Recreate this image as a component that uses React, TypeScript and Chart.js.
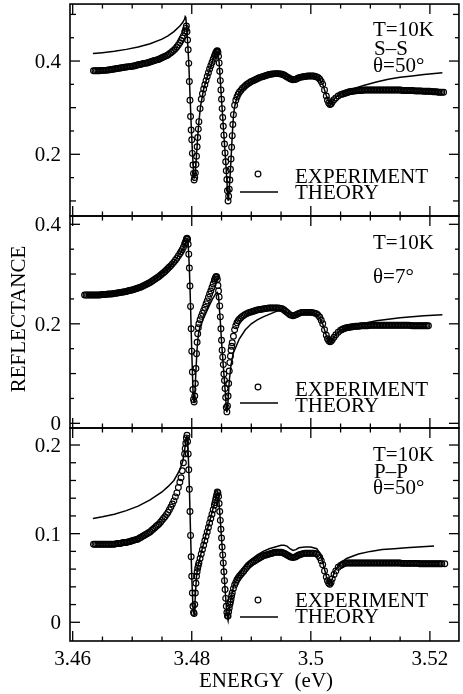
import React, { useEffect, useRef } from "react";
import { Chart, registerables } from "chart.js";

Chart.register(...registerables);

type Pt = [number, number];

// ---------- axis data ----------
const ENERGY_MIN = 3.45955;
const ENERGY_MAX = 3.52488;
const ENERGY_MAJOR = [3.46, 3.48, 3.5, 3.52];
const ENERGY_LABELS = ["3.46", "3.48", "3.5", "3.52"];
const ENERGY_MINOR = [3.465, 3.47, 3.475, 3.485, 3.49, 3.495, 3.505, 3.51, 3.515];

const SS_RANGE: [number, number] = [0.0677, 0.5222];
const SS_MAJOR = [0.2, 0.4];
const SS_LABELS = ["0.2", "0.4"];
const SS_MID = [0.1, 0.3, 0.5];
const SS_MINOR = [0.15, 0.25, 0.35, 0.45];

const N7_RANGE: [number, number] = [-0.0094, 0.4167];
const N7_MAJOR = [0, 0.2, 0.4];
const N7_LABELS = ["0", "0.2", "0.4"];
const N7_MID = [0.1, 0.3];
const N7_MINOR = [0.05, 0.15, 0.25, 0.35];

const PP_RANGE: [number, number] = [-0.0211, 0.2192];
const PP_MAJOR = [0, 0.1, 0.2];
const PP_LABELS = ["0", "0.1", "0.2"];
const PP_MID = [0.02, 0.04, 0.06, 0.08, 0.12, 0.14, 0.16, 0.18];
const PP_MINOR: number[] = [];

// ---------- series data: [energy (eV), reflectance] ----------
const EXP_SS: Pt[] = [
  [3.4635,0.379],[3.46375,0.379],[3.464,0.379],[3.46425,0.379],[3.4645,0.379],[3.46475,0.3795],[3.465,0.38],[3.46525,0.38],[3.4655,0.38],[3.46575,0.3805],
  [3.466,0.381],[3.46625,0.3815],[3.4665,0.382],[3.46675,0.3825],[3.467,0.383],[3.46725,0.3835],[3.4675,0.384],[3.46775,0.3845],[3.468,0.385],[3.46825,0.3855],
  [3.4685,0.386],[3.46875,0.3865],[3.469,0.387],[3.46925,0.3875],[3.4695,0.388],[3.46975,0.3885],[3.47,0.389],[3.47025,0.3895],[3.4705,0.39],[3.47075,0.391],
  [3.471,0.392],[3.47125,0.3925],[3.4715,0.393],[3.47175,0.394],[3.472,0.395],[3.47225,0.3955],[3.4725,0.396],[3.47275,0.397],[3.473,0.398],[3.47325,0.399],
  [3.4735,0.4],[3.47375,0.401],[3.474,0.402],[3.47425,0.403],[3.4745,0.404],[3.47475,0.4055],[3.475,0.407],[3.47525,0.4085],[3.4755,0.41],[3.47575,0.4115],
  [3.476,0.413],[3.47625,0.4155],[3.4765,0.418],[3.47675,0.4205],[3.477,0.423],[3.47725,0.4265],[3.4775,0.43],[3.47775,0.4345],[3.478,0.439],[3.4782,0.444],
  [3.4784,0.449],[3.4786,0.454],[3.4788,0.461],[3.4789,0.465],[3.479,0.47],[3.4791,0.475],[3.4792,0.463],[3.4793,0.445],[3.4794,0.424],[3.4795,0.395],
  [3.4796,0.356],[3.4797,0.316],[3.4798,0.281],[3.4799,0.252],[3.48,0.231],[3.4801,0.202],[3.4802,0.177],[3.4803,0.159],[3.4804,0.145],[3.4805,0.15],
  [3.4806,0.16],[3.4807,0.178],[3.4808,0.196],[3.4809,0.216],[3.481,0.236],[3.4811,0.254],[3.4812,0.27],[3.4814,0.298],[3.4816,0.318],[3.4818,0.33],
  [3.482,0.34],[3.4822,0.349],[3.4824,0.358],[3.4826,0.367],[3.4828,0.375],[3.483,0.383],[3.4832,0.39],[3.4834,0.397],[3.4836,0.404],[3.4838,0.41],
  [3.4839,0.413],[3.484,0.416],[3.4841,0.419],[3.4842,0.421],[3.4843,0.422],[3.4844,0.419],[3.4845,0.41],[3.4846,0.396],[3.4847,0.378],[3.4848,0.358],
  [3.4849,0.338],[3.485,0.318],[3.4851,0.298],[3.4852,0.279],[3.4853,0.26],[3.4854,0.241],[3.4855,0.222],[3.4856,0.203],[3.4857,0.184],[3.4858,0.165],
  [3.4859,0.146],[3.486,0.122],[3.4861,0.1],[3.4862,0.11],[3.4863,0.125],[3.4864,0.145],[3.4865,0.168],[3.4866,0.19],[3.4867,0.215],[3.4868,0.24],
  [3.4869,0.264],[3.487,0.285],[3.4872,0.305],[3.4874,0.316],[3.4876,0.323],[3.4878,0.329],[3.488,0.333],[3.48825,0.337],[3.4885,0.341],[3.48875,0.344],
  [3.489,0.347],[3.48925,0.3495],[3.4895,0.352],[3.48975,0.354],[3.49,0.356],[3.49025,0.3575],[3.4905,0.359],[3.49075,0.3605],[3.491,0.362],[3.49125,0.3635],
  [3.4915,0.365],[3.49175,0.366],[3.492,0.367],[3.49225,0.368],[3.4925,0.369],[3.49275,0.37],[3.493,0.371],[3.49325,0.3715],[3.4935,0.372],[3.49375,0.3725],
  [3.494,0.373],[3.49425,0.373],[3.4945,0.373],[3.49475,0.3725],[3.495,0.372],[3.49525,0.371],[3.4955,0.37],[3.49575,0.368],[3.496,0.366],[3.49625,0.364],
  [3.4965,0.362],[3.49675,0.361],[3.497,0.36],[3.49725,0.3605],[3.4975,0.361],[3.49775,0.3625],[3.498,0.364],[3.49825,0.365],[3.4985,0.366],[3.49875,0.3665],
  [3.499,0.367],[3.49925,0.3675],[3.4995,0.368],[3.49975,0.368],[3.5,0.368],[3.50025,0.368],[3.5005,0.368],[3.50075,0.367],[3.501,0.366],[3.50125,0.364],
  [3.5015,0.361],[3.50175,0.356],[3.502,0.35],[3.5023,0.338],[3.5026,0.325],[3.5028,0.316],[3.503,0.31],[3.5032,0.307],[3.5034,0.308],[3.5036,0.312],
  [3.5039,0.317],[3.5042,0.321],[3.5046,0.325],[3.505,0.328],[3.50525,0.329],[3.5055,0.33],[3.50575,0.331],[3.506,0.332],[3.50625,0.333],[3.5065,0.334],
  [3.50675,0.3345],[3.507,0.335],[3.50725,0.3355],[3.5075,0.336],[3.50775,0.3365],[3.508,0.337],[3.50825,0.337],[3.5085,0.337],[3.50875,0.3375],[3.509,0.338],
  [3.50925,0.338],[3.5095,0.338],[3.50975,0.338],[3.51,0.338],[3.51025,0.338],[3.5105,0.338],[3.51075,0.338],[3.511,0.338],[3.51125,0.338],[3.5115,0.338],
  [3.51175,0.338],[3.512,0.338],[3.51225,0.338],[3.5125,0.338],[3.51275,0.338],[3.513,0.338],[3.51325,0.338],[3.5135,0.338],[3.51375,0.338],[3.514,0.338],
  [3.51425,0.338],[3.5145,0.338],[3.51475,0.338],[3.515,0.338],[3.51525,0.3375],[3.5155,0.337],[3.51575,0.337],[3.516,0.337],[3.51625,0.337],[3.5165,0.337],
  [3.51675,0.337],[3.517,0.337],[3.51725,0.3365],[3.5175,0.336],[3.51775,0.336],[3.518,0.336],[3.51825,0.336],[3.5185,0.336],[3.51875,0.3355],[3.519,0.335],
  [3.51925,0.335],[3.5195,0.335],[3.51975,0.335],[3.52,0.335],[3.52025,0.3345],[3.5205,0.334],[3.52075,0.334],[3.521,0.334],[3.52125,0.3335],[3.5215,0.333],
  [3.52175,0.333],[3.522,0.333],[3.5223,0.333],
];

const THEORY_SS: Pt[] = [
  [3.4634,0.416],[3.465,0.418],[3.467,0.421],[3.469,0.425],[3.471,0.43],[3.473,0.437],[3.475,0.447],[3.476,0.454],[3.477,0.463],[3.478,0.475],
  [3.4785,0.483],[3.4788,0.49],[3.4789,0.495],[3.479,0.493],[3.4791,0.478],[3.4792,0.462],[3.4793,0.443],[3.4795,0.395],[3.4797,0.33],[3.4799,0.265],
  [3.4801,0.207],[3.4803,0.163],[3.4804,0.15],[3.4805,0.15],[3.4806,0.16],[3.4808,0.198],[3.481,0.238],[3.4812,0.27],[3.4815,0.305],[3.482,0.34],
  [3.483,0.383],[3.4838,0.41],[3.4842,0.42],[3.4844,0.418],[3.4846,0.397],[3.4848,0.358],[3.485,0.318],[3.4852,0.279],[3.4854,0.241],[3.4856,0.203],
  [3.4858,0.165],[3.486,0.122],[3.4861,0.102],[3.4862,0.11],[3.4864,0.145],[3.4866,0.19],[3.4868,0.24],[3.487,0.282],[3.4872,0.302],[3.4875,0.318],
  [3.488,0.332],[3.489,0.346],[3.49,0.356],[3.492,0.367],[3.494,0.373],[3.495,0.372],[3.496,0.366],[3.497,0.36],[3.498,0.364],[3.4995,0.368],
  [3.501,0.366],[3.5015,0.361],[3.502,0.35],[3.5026,0.326],[3.5032,0.308],[3.5036,0.313],[3.5042,0.322],[3.505,0.33],[3.506,0.336],[3.507,0.34],
  [3.509,0.348],[3.511,0.355],[3.513,0.361],[3.515,0.365],[3.517,0.368],[3.519,0.371],[3.5221,0.375],
];

const EXP_7: Pt[] = [
  [3.462,0.258],[3.46225,0.258],[3.4625,0.258],[3.46275,0.258],[3.463,0.258],[3.46325,0.258],[3.4635,0.258],[3.46375,0.258],[3.464,0.258],[3.46425,0.258],
  [3.4645,0.258],[3.46475,0.2585],[3.465,0.259],[3.46525,0.259],[3.4655,0.259],[3.46575,0.2595],[3.466,0.26],[3.46625,0.26],[3.4665,0.26],[3.46675,0.2605],
  [3.467,0.261],[3.46725,0.2615],[3.4675,0.262],[3.46775,0.2625],[3.468,0.263],[3.46825,0.2635],[3.4685,0.264],[3.46875,0.2645],[3.469,0.265],[3.46925,0.266],
  [3.4695,0.267],[3.46975,0.2675],[3.47,0.268],[3.47025,0.269],[3.4705,0.27],[3.47075,0.271],[3.471,0.272],[3.47125,0.273],[3.4715,0.274],[3.47175,0.2755],
  [3.472,0.277],[3.47225,0.2785],[3.4725,0.28],[3.47275,0.2815],[3.473,0.283],[3.47325,0.285],[3.4735,0.287],[3.47375,0.289],[3.474,0.291],[3.47425,0.293],
  [3.4745,0.295],[3.47475,0.2975],[3.475,0.3],[3.47525,0.3025],[3.4755,0.305],[3.47575,0.308],[3.476,0.311],[3.47625,0.314],[3.4765,0.317],[3.47675,0.3205],
  [3.477,0.324],[3.47725,0.328],[3.4775,0.332],[3.47775,0.3365],[3.478,0.341],[3.4782,0.345],[3.4784,0.349],[3.4786,0.354],[3.4788,0.36],[3.4789,0.363],
  [3.479,0.366],[3.4791,0.37],[3.4792,0.372],[3.4793,0.37],[3.4794,0.36],[3.4795,0.34],[3.4796,0.312],[3.4797,0.276],[3.4798,0.235],[3.4799,0.19],
  [3.48,0.145],[3.4801,0.103],[3.4802,0.068],[3.4803,0.048],[3.4804,0.043],[3.4805,0.055],[3.4806,0.08],[3.4807,0.11],[3.4808,0.14],[3.4809,0.163],
  [3.481,0.18],[3.4811,0.192],[3.4812,0.2],[3.4814,0.208],[3.4816,0.215],[3.4818,0.221],[3.482,0.227],[3.4822,0.233],[3.4824,0.24],[3.4826,0.246],
  [3.4828,0.253],[3.483,0.26],[3.4832,0.266],[3.4834,0.273],[3.4836,0.28],[3.4838,0.287],[3.4839,0.29],[3.484,0.293],[3.4841,0.295],[3.4842,0.294],
  [3.4843,0.289],[3.4844,0.277],[3.4845,0.266],[3.4846,0.254],[3.4847,0.236],[3.4848,0.214],[3.4849,0.19],[3.485,0.167],[3.4851,0.147],[3.4852,0.133],
  [3.4853,0.118],[3.4854,0.099],[3.4855,0.086],[3.4856,0.07],[3.4857,0.052],[3.4858,0.032],[3.4859,0.023],[3.486,0.035],[3.4861,0.055],[3.4862,0.08],
  [3.4863,0.105],[3.4864,0.122],[3.4865,0.135],[3.4866,0.147],[3.4867,0.155],[3.4868,0.162],[3.487,0.175],[3.4872,0.188],[3.4874,0.196],[3.4876,0.202],
  [3.4878,0.206],[3.488,0.209],[3.48825,0.212],[3.4885,0.215],[3.48875,0.217],[3.489,0.219],[3.48925,0.2205],[3.4895,0.222],[3.48975,0.223],[3.49,0.224],
  [3.49025,0.225],[3.4905,0.226],[3.49075,0.227],[3.491,0.228],[3.49125,0.2285],[3.4915,0.229],[3.49175,0.2295],[3.492,0.23],[3.49225,0.2305],[3.4925,0.231],
  [3.49275,0.2315],[3.493,0.232],[3.49325,0.232],[3.4935,0.232],[3.49375,0.232],[3.494,0.232],[3.49425,0.232],[3.4945,0.232],[3.49475,0.2315],[3.495,0.231],
  [3.49525,0.23],[3.4955,0.228],[3.49575,0.2255],[3.496,0.223],[3.49625,0.2205],[3.4965,0.218],[3.49675,0.217],[3.497,0.216],[3.49725,0.217],[3.4975,0.218],
  [3.49775,0.2195],[3.498,0.221],[3.49825,0.222],[3.4985,0.223],[3.49875,0.223],[3.499,0.223],[3.49925,0.223],[3.4995,0.223],[3.49975,0.223],[3.5,0.223],
  [3.50025,0.2225],[3.5005,0.222],[3.50075,0.221],[3.501,0.22],[3.50125,0.217],[3.5015,0.213],[3.50175,0.207],[3.502,0.2],[3.5023,0.188],[3.5026,0.177],
  [3.5028,0.17],[3.503,0.166],[3.5032,0.164],[3.5034,0.165],[3.5036,0.168],[3.5039,0.173],[3.5042,0.178],[3.5046,0.183],[3.505,0.187],[3.50525,0.1885],
  [3.5055,0.19],[3.50575,0.191],[3.506,0.192],[3.50625,0.1925],[3.5065,0.193],[3.50675,0.1935],[3.507,0.194],[3.50725,0.1945],[3.5075,0.195],[3.50775,0.195],
  [3.508,0.195],[3.50825,0.1955],[3.5085,0.196],[3.50875,0.196],[3.509,0.196],[3.50925,0.196],[3.5095,0.196],[3.50975,0.1965],[3.51,0.197],[3.51025,0.197],
  [3.5105,0.197],[3.51075,0.197],[3.511,0.197],[3.51125,0.197],[3.5115,0.197],[3.51175,0.197],[3.512,0.197],[3.51225,0.197],[3.5125,0.197],[3.51275,0.197],
  [3.513,0.197],[3.51325,0.197],[3.5135,0.197],[3.51375,0.197],[3.514,0.197],[3.51425,0.197],[3.5145,0.197],[3.51475,0.197],[3.515,0.197],[3.51525,0.197],
  [3.5155,0.197],[3.51575,0.197],[3.516,0.197],[3.51625,0.197],[3.5165,0.197],[3.51675,0.1965],[3.517,0.196],[3.51725,0.196],[3.5175,0.196],[3.51775,0.196],
  [3.518,0.196],[3.51825,0.196],[3.5185,0.196],[3.51875,0.196],[3.519,0.196],[3.51925,0.196],[3.5195,0.196],[3.51975,0.196],
];

const THEORY_7: Pt[] = [
  [3.4622,0.258],[3.465,0.259],[3.468,0.263],[3.47,0.268],[3.472,0.277],[3.474,0.291],[3.476,0.311],[3.477,0.324],[3.478,0.341],[3.4785,0.35],
  [3.4789,0.362],[3.4792,0.37],[3.4794,0.36],[3.4796,0.312],[3.4798,0.235],[3.48,0.145],[3.4802,0.068],[3.4803,0.048],[3.4804,0.042],[3.4805,0.052],
  [3.4807,0.105],[3.4809,0.15],[3.4811,0.178],[3.4813,0.19],[3.4816,0.2],[3.482,0.212],[3.483,0.238],[3.4835,0.25],[3.484,0.26],[3.4843,0.263],
  [3.4845,0.255],[3.4848,0.205],[3.485,0.165],[3.4853,0.115],[3.4856,0.068],[3.4858,0.032],[3.4859,0.022],[3.4861,0.045],[3.4863,0.085],[3.4866,0.118],
  [3.487,0.142],[3.488,0.17],[3.489,0.188],[3.49,0.2],[3.491,0.208],[3.492,0.214],[3.493,0.219],[3.494,0.224],[3.495,0.228],[3.4955,0.227],
  [3.496,0.222],[3.497,0.216],[3.498,0.219],[3.499,0.222],[3.5,0.222],[3.501,0.219],[3.5015,0.212],[3.502,0.199],[3.5026,0.177],[3.5032,0.163],
  [3.5038,0.172],[3.5045,0.182],[3.505,0.187],[3.507,0.195],[3.509,0.201],[3.511,0.206],[3.513,0.209],[3.515,0.212],[3.517,0.214],[3.519,0.216],
  [3.5221,0.218],
];

const EXP_PP: Pt[] = [
  [3.4635,0.088],[3.46375,0.088],[3.464,0.088],[3.46425,0.088],[3.4645,0.088],[3.46475,0.088],[3.465,0.088],[3.46525,0.088],[3.4655,0.088],[3.46575,0.088],
  [3.466,0.088],[3.46625,0.088],[3.4665,0.088],[3.46675,0.088],[3.467,0.088],[3.46725,0.0885],[3.4675,0.089],[3.46775,0.089],[3.468,0.089],[3.46825,0.0895],
  [3.4685,0.09],[3.46875,0.09],[3.469,0.09],[3.46925,0.0905],[3.4695,0.091],[3.46975,0.0915],[3.47,0.092],[3.47025,0.0925],[3.4705,0.093],[3.47075,0.0935],
  [3.471,0.094],[3.47125,0.095],[3.4715,0.096],[3.47175,0.097],[3.472,0.098],[3.47225,0.099],[3.4725,0.1],[3.47275,0.101],[3.473,0.102],[3.47325,0.1035],
  [3.4735,0.105],[3.47375,0.1065],[3.474,0.108],[3.47425,0.1095],[3.4745,0.111],[3.47475,0.113],[3.475,0.115],[3.47525,0.117],[3.4755,0.119],[3.47575,0.1215],
  [3.476,0.124],[3.47625,0.127],[3.4765,0.13],[3.47675,0.1335],[3.477,0.137],[3.47725,0.1415],[3.4775,0.146],[3.47775,0.152],[3.478,0.158],[3.4782,0.163],
  [3.4784,0.171],[3.4786,0.18],[3.4788,0.19],[3.4789,0.196],[3.479,0.202],[3.4791,0.208],[3.4792,0.211],[3.4793,0.204],[3.4794,0.19],[3.4795,0.172],
  [3.4796,0.15],[3.4797,0.125],[3.4798,0.098],[3.4799,0.074],[3.48,0.052],[3.4801,0.033],[3.4802,0.018],[3.4803,0.011],[3.4804,0.01],[3.4805,0.02],
  [3.4806,0.033],[3.4807,0.044],[3.4808,0.052],[3.4809,0.057],[3.481,0.061],[3.4811,0.064],[3.4812,0.067],[3.4814,0.072],[3.4816,0.077],[3.4818,0.082],
  [3.482,0.087],[3.4822,0.092],[3.4824,0.097],[3.4826,0.102],[3.4828,0.107],[3.483,0.112],[3.4832,0.117],[3.4834,0.122],[3.4836,0.127],[3.4838,0.132],
  [3.4839,0.135],[3.484,0.138],[3.4841,0.141],[3.4842,0.144],[3.4843,0.147],[3.4844,0.146],[3.4845,0.142],[3.4846,0.134],[3.4847,0.125],[3.4848,0.115],
  [3.4849,0.105],[3.485,0.095],[3.4851,0.085],[3.4852,0.076],[3.4853,0.067],[3.4854,0.057],[3.4855,0.047],[3.4856,0.037],[3.4857,0.027],[3.4858,0.018],
  [3.4859,0.011],[3.486,0.007],[3.4861,0.007],[3.4862,0.012],[3.4863,0.016],[3.4864,0.02],[3.4865,0.023],[3.4866,0.026],[3.4867,0.03],[3.4868,0.033],
  [3.487,0.038],[3.4872,0.042],[3.4874,0.045],[3.4876,0.048],[3.4878,0.05],[3.488,0.052],[3.48825,0.054],[3.4885,0.056],[3.48875,0.058],[3.489,0.06],
  [3.48925,0.062],[3.4895,0.064],[3.48975,0.0655],[3.49,0.067],[3.49025,0.068],[3.4905,0.069],[3.49075,0.07],[3.491,0.071],[3.49125,0.072],[3.4915,0.073],
  [3.49175,0.074],[3.492,0.075],[3.49225,0.0755],[3.4925,0.076],[3.49275,0.0765],[3.493,0.077],[3.49325,0.0775],[3.4935,0.078],[3.49375,0.0785],[3.494,0.079],
  [3.49425,0.079],[3.4945,0.079],[3.49475,0.079],[3.495,0.079],[3.49525,0.0785],[3.4955,0.078],[3.49575,0.077],[3.496,0.076],[3.49625,0.075],[3.4965,0.074],
  [3.49675,0.0735],[3.497,0.073],[3.49725,0.0735],[3.4975,0.074],[3.49775,0.075],[3.498,0.076],[3.49825,0.0765],[3.4985,0.077],[3.49875,0.0775],[3.499,0.078],
  [3.49925,0.078],[3.4995,0.078],[3.49975,0.078],[3.5,0.078],[3.50025,0.078],[3.5005,0.078],[3.50075,0.0775],[3.501,0.077],[3.50125,0.0755],[3.5015,0.073],
  [3.50175,0.0695],[3.502,0.065],[3.5023,0.058],[3.5026,0.051],[3.5028,0.047],[3.503,0.044],[3.5032,0.043],[3.5034,0.045],[3.5036,0.049],[3.5039,0.054],
  [3.5042,0.058],[3.5046,0.062],[3.505,0.064],[3.50525,0.065],[3.5055,0.066],[3.50575,0.0665],[3.506,0.067],[3.50625,0.067],[3.5065,0.067],[3.50675,0.067],
  [3.507,0.067],[3.50725,0.067],[3.5075,0.067],[3.50775,0.067],[3.508,0.067],[3.50825,0.067],[3.5085,0.067],[3.50875,0.067],[3.509,0.067],[3.50925,0.067],
  [3.5095,0.067],[3.50975,0.067],[3.51,0.067],[3.51025,0.067],[3.5105,0.067],[3.51075,0.067],[3.511,0.067],[3.51125,0.067],[3.5115,0.067],[3.51175,0.067],
  [3.512,0.067],[3.51225,0.067],[3.5125,0.067],[3.51275,0.067],[3.513,0.067],[3.51325,0.067],[3.5135,0.067],[3.51375,0.067],[3.514,0.067],[3.51425,0.067],
  [3.5145,0.067],[3.51475,0.067],[3.515,0.067],[3.51525,0.0665],[3.5155,0.0665],[3.51575,0.0665],[3.516,0.0665],[3.51625,0.0665],[3.5165,0.0665],[3.51675,0.0665],
  [3.517,0.0665],[3.51725,0.0665],[3.5175,0.0665],[3.51775,0.0665],[3.518,0.0665],[3.51825,0.066],[3.5185,0.066],[3.51875,0.066],[3.519,0.066],[3.51925,0.066],
  [3.5195,0.066],[3.51975,0.066],[3.52,0.066],[3.52025,0.066],[3.5205,0.066],[3.52075,0.066],[3.521,0.066],[3.52125,0.066],[3.5215,0.066],[3.52175,0.066],
  [3.522,0.066],[3.5225,0.066],
];

const THEORY_PP: Pt[] = [
  [3.4634,0.117],[3.465,0.119],[3.467,0.122],[3.469,0.126],[3.471,0.131],[3.473,0.138],[3.475,0.147],[3.476,0.153],[3.477,0.16],[3.478,0.172],
  [3.4785,0.182],[3.4788,0.194],[3.479,0.204],[3.4791,0.21],[3.4792,0.211],[3.4794,0.192],[3.4796,0.152],[3.4798,0.1],[3.48,0.052],[3.4802,0.018],
  [3.4803,0.01],[3.4804,0.009],[3.4805,0.016],[3.4806,0.03],[3.4808,0.052],[3.481,0.062],[3.4815,0.076],[3.482,0.089],[3.483,0.114],[3.484,0.139],
  [3.4843,0.147],[3.4845,0.142],[3.4848,0.115],[3.485,0.095],[3.4852,0.076],[3.4854,0.057],[3.4856,0.037],[3.4858,0.018],[3.486,0.005],[3.4861,0.002],
  [3.4863,0.013],[3.4866,0.027],[3.487,0.04],[3.488,0.055],[3.489,0.064],[3.49,0.071],[3.491,0.076],[3.492,0.08],[3.493,0.083],[3.494,0.085],
  [3.495,0.087],[3.4955,0.087],[3.496,0.086],[3.4965,0.083],[3.497,0.081],[3.4975,0.082],[3.498,0.084],[3.499,0.085],[3.5,0.085],[3.501,0.083],
  [3.5015,0.078],[3.502,0.068],[3.5026,0.052],[3.5031,0.042],[3.5036,0.049],[3.504,0.058],[3.505,0.067],[3.506,0.072],[3.508,0.077],[3.51,0.08],
  [3.512,0.082],[3.514,0.083],[3.516,0.084],[3.518,0.085],[3.5207,0.086],
];

// ---------- layout / style ----------
const W = 463;
const H = 694;
const FONT = '21px "Liberation Serif", "Times New Roman", serif';

interface TextItem { text: string; x: number; y: number; align?: CanvasTextAlign; rotate?: boolean; }
interface PanelSpec {
  key: string;
  top: number;
  bottom: number;
  range: [number, number];
  major: number[];
  labels: string[];
  mid: number[];
  minor: number[];
  exp: Pt[];
  theory: Pt[];
  texts: TextItem[];
  legend: { cx: number; cy: number; lineY: number };
  xLabels: boolean;
}

const PANELS: PanelSpec[] = [
  {
    key: "ss", top: 4, bottom: 216, range: SS_RANGE, major: SS_MAJOR, labels: SS_LABELS, mid: SS_MID, minor: SS_MINOR,
    exp: EXP_SS, theory: THEORY_SS,
    texts: [
      { text: "T=10K", x: 373, y: 36 },
      { text: "S\u2013S", x: 374, y: 55 },
      { text: "\u03b8=50\u00b0", x: 373, y: 72 },
      { text: "EXPERIMENT", x: 295, y: 183 },
      { text: "THEORY", x: 295, y: 199 },
    ],
    legend: { cx: 258, cy: 174, lineY: 192 },
    xLabels: false,
  },
  {
    key: "n7", top: 216, bottom: 428, range: N7_RANGE, major: N7_MAJOR, labels: N7_LABELS, mid: N7_MID, minor: N7_MINOR,
    exp: EXP_7, theory: THEORY_7,
    texts: [
      { text: "T=10K", x: 373, y: 249 },
      { text: "\u03b8=7\u00b0", x: 373, y: 283 },
      { text: "EXPERIMENT", x: 295, y: 396 },
      { text: "THEORY", x: 295, y: 412 },
      { text: "REFLECTANCE", x: 25, y: 319, rotate: true },
    ],
    legend: { cx: 258, cy: 387, lineY: 403 },
    xLabels: false,
  },
  {
    key: "pp", top: 428, bottom: 641, range: PP_RANGE, major: PP_MAJOR, labels: PP_LABELS, mid: PP_MID, minor: PP_MINOR,
    exp: EXP_PP, theory: THEORY_PP,
    texts: [
      { text: "T=10K", x: 373, y: 461 },
      { text: "P\u2013P", x: 374, y: 478 },
      { text: "\u03b8=50\u00b0", x: 373, y: 494 },
      { text: "EXPERIMENT", x: 295, y: 607 },
      { text: "THEORY", x: 295, y: 623 },
      { text: "ENERGY  (eV)", x: 266, y: 687, align: "center" },
    ],
    legend: { cx: 258, cy: 600, lineY: 617 },
    xLabels: true,
  },
];

function makeDeco(p: PanelSpec) {
  return {
    id: "deco_" + p.key,
    afterDraw(chart: any) {
      const ctx: CanvasRenderingContext2D = chart.ctx;
      const a = chart.chartArea;
      const xs = chart.scales.x;
      const ys = chart.scales.y;
      ctx.save();
      ctx.strokeStyle = "#000";
      ctx.fillStyle = "#000";
      ctx.lineCap = "butt";

      const seg = (x1: number, y1: number, x2: number, y2: number) => {
        ctx.beginPath();
        ctx.moveTo(x1, y1);
        ctx.lineTo(x2, y2);
        ctx.stroke();
      };

      // ticks (inward on all four sides)
      ctx.lineWidth = 1.3;
      const xt = (vals: number[], len: number) => {
        for (const v of vals) {
          const x = xs.getPixelForValue(v);
          seg(x, a.bottom, x, a.bottom - len);
          seg(x, a.top, x, a.top + len);
        }
      };
      xt(ENERGY_MAJOR, 10);
      xt(ENERGY_MINOR, 4.5);
      const yt = (vals: number[], len: number) => {
        for (const v of vals) {
          const y = ys.getPixelForValue(v);
          seg(a.left, y, a.left + len, y);
          seg(a.right, y, a.right - len, y);
        }
      };
      yt(p.major, 10);
      yt(p.mid, 6);
      yt(p.minor, 4);

      // frame
      ctx.lineWidth = 1.6;
      ctx.strokeRect(a.left, a.top, a.right - a.left, a.bottom - a.top);

      // tick labels
      ctx.font = FONT;
      ctx.textBaseline = "alphabetic";
      ctx.textAlign = "right";
      p.major.forEach((v, i) => {
        ctx.fillText(p.labels[i], a.left - 9, ys.getPixelForValue(v) + 7);
      });
      if (p.xLabels) {
        ctx.textAlign = "center";
        ENERGY_MAJOR.forEach((v, i) => {
          ctx.fillText(ENERGY_LABELS[i], xs.getPixelForValue(v), a.bottom + 24);
        });
      }

      // legend symbols
      ctx.lineWidth = 1.15;
      ctx.beginPath();
      ctx.arc(p.legend.cx, p.legend.cy, 2.9, 0, Math.PI * 2);
      ctx.stroke();
      ctx.lineWidth = 1.6;
      seg(240, p.legend.lineY, 278, p.legend.lineY);

      // texts
      for (const t of p.texts) {
        ctx.textAlign = t.align || "left";
        if (t.rotate) {
          ctx.save();
          ctx.translate(t.x, t.y);
          ctx.rotate(-Math.PI / 2);
          ctx.textAlign = "center";
          ctx.fillText(t.text, 0, 0);
          ctx.restore();
        } else {
          ctx.fillText(t.text, t.x, t.y);
        }
      }
      ctx.restore();
    },
  };
}

function Panel({ spec }: { spec: PanelSpec }) {
  const ref = useRef<HTMLCanvasElement | null>(null);
  useEffect(() => {
    if (!ref.current) return;
    const chart = new Chart(ref.current, {
      type: "scatter",
      data: {
        datasets: [
          {
            label: "THEORY",
            data: spec.theory.map(([x, y]) => ({ x, y })),
            showLine: true,
            borderColor: "#000",
            backgroundColor: "#000",
            borderWidth: 1.5,
            pointRadius: 0,
            pointHoverRadius: 0,
            tension: 0,
            order: 0,
          },
          {
            label: "EXPERIMENT",
            data: spec.exp.map(([x, y]) => ({ x, y })),
            showLine: false,
            pointRadius: 2.9,
            pointHoverRadius: 2.9,
            pointBorderWidth: 1.15,
            pointBorderColor: "#000",
            pointBackgroundColor: "rgba(255,255,255,0)",
            borderColor: "#000",
            backgroundColor: "rgba(255,255,255,0)",
            order: 1,
          },
        ],
      },
      options: {
        responsive: false,
        maintainAspectRatio: false,
        animation: false,
        devicePixelRatio: 1,
        events: [],
        layout: { padding: { left: 70, right: W - 462, top: spec.top, bottom: H - spec.bottom } },
        scales: {
          x: { type: "linear", min: ENERGY_MIN, max: ENERGY_MAX, display: false },
          y: { type: "linear", min: spec.range[0], max: spec.range[1], display: false },
        },
        plugins: { legend: { display: false }, tooltip: { enabled: false }, title: { display: false } },
      },
      plugins: [makeDeco(spec)],
    } as any);
    return () => chart.destroy();
  }, [spec]);
  return (
    <canvas
      ref={ref}
      width={W}
      height={H}
      style={{ position: "absolute", left: 0, top: 0, width: W, height: H }}
    />
  );
}

export default function App() {
  return (
    <div style={{ position: "absolute", left: 0, top: 0, width: W, height: H, background: "#fff", overflow: "hidden" }}>
      {PANELS.map((p) => (
        <Panel key={p.key} spec={p} />
      ))}
    </div>
  );
}
